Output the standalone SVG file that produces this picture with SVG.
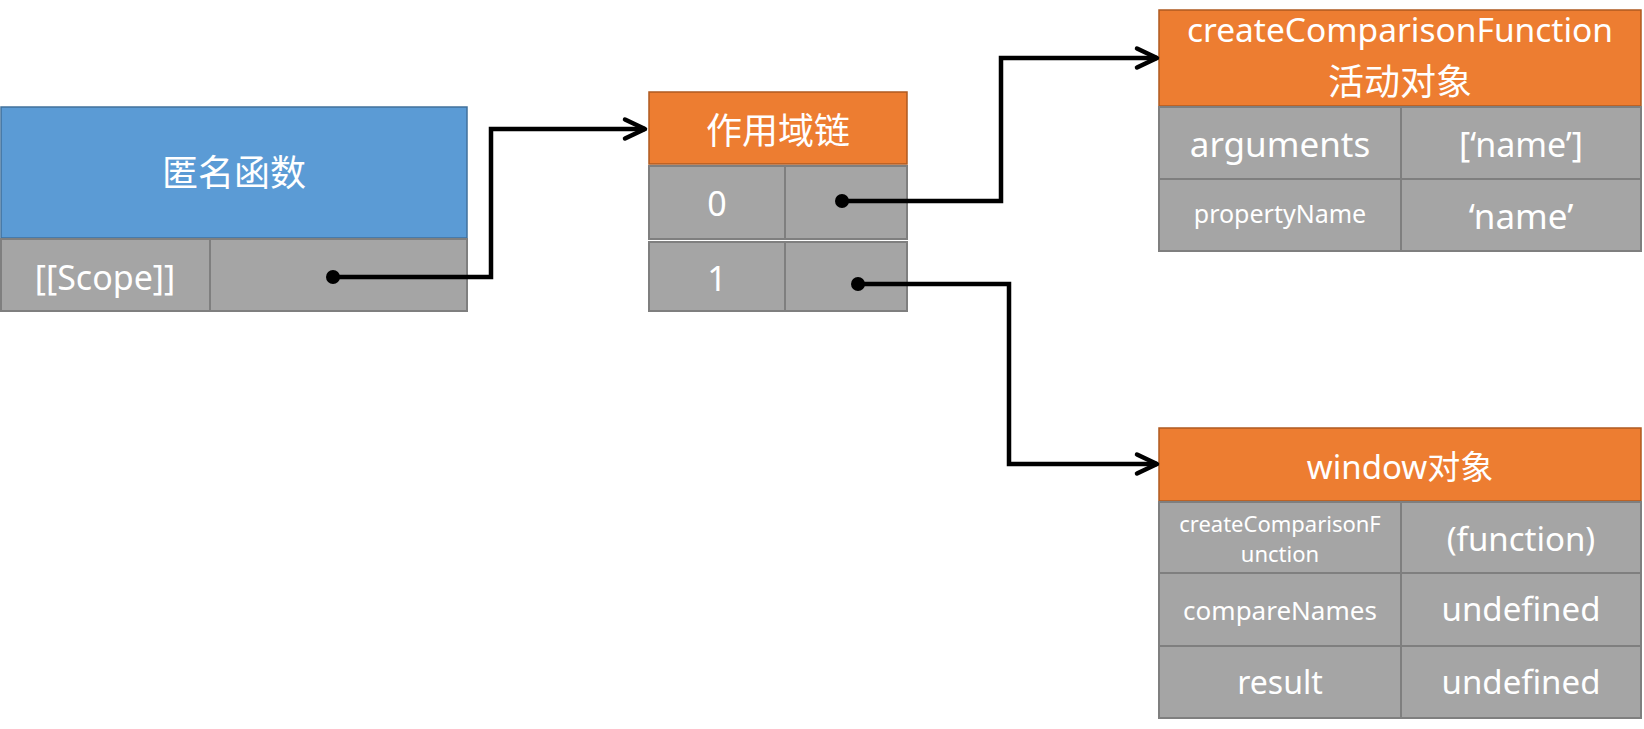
<svg xmlns="http://www.w3.org/2000/svg" width="1644" height="729" viewBox="0 0 1644 729">
  <style>
    .blue { fill: #5B9BD5; stroke: #41719C; stroke-width: 1.5; }
    .orange { fill: #ED7D31; stroke: #AE5A21; stroke-width: 1.5; }
    .cell { fill: #A5A5A5; stroke: #7F7F7F; stroke-width: 2; }
    text { fill: #FFFFFF; font-family: "Noto Sans", "Noto Sans CJK SC", sans-serif; text-anchor: middle; }
    .conn { fill: none; stroke: #000000; stroke-width: 4.5; stroke-linejoin: miter; }
  </style>
  <defs>
    <marker id="arrow" markerUnits="userSpaceOnUse" viewBox="-26 -14 30 28" refX="0" refY="0" markerWidth="30" markerHeight="28" orient="auto">
      <path d="M-20,-9.5 L0,0 L-20,9.5" fill="none" stroke="#000000" stroke-width="4.5" stroke-linecap="round" stroke-linejoin="round"/>
    </marker>
    <marker id="dot" markerUnits="userSpaceOnUse" viewBox="-9 -9 18 18" refX="0" refY="0" markerWidth="18" markerHeight="18">
      <circle cx="0" cy="0" r="7" fill="#000000"/>
    </marker>
  </defs>
  <rect width="1644" height="729" fill="#FFFFFF"/>

  <g id="anonymous-function">
    <rect class="blue" x="1" y="107" width="466" height="131"/>
    <text x="234" y="186" font-size="36">匿名函数</text>
    <rect class="cell" x="1" y="239" width="209" height="72"/>
    <rect class="cell" x="210" y="239" width="257" height="72"/>
    <text x="105" y="290" font-size="34">[[Scope]]</text>
  </g>

  <g id="scope-chain">
    <rect class="orange" x="649" y="92" width="258" height="72"/>
    <text x="778" y="144" font-size="36">作用域链</text>
    <rect class="cell" x="649" y="166" width="136" height="73"/>
    <rect class="cell" x="785" y="166" width="122" height="73"/>
    <text x="717" y="216" font-size="34">0</text>
    <rect class="cell" x="649" y="242" width="136" height="69"/>
    <rect class="cell" x="785" y="242" width="122" height="69"/>
    <text x="717" y="291" font-size="34">1</text>
  </g>

  <g id="activation-object">
    <rect class="orange" x="1159" y="10" width="482" height="96"/>
    <text x="1400" y="42" font-size="33.5">createComparisonFunction</text>
    <text x="1400" y="95" font-size="36">活动对象</text>
    <rect class="cell" x="1159" y="107" width="242" height="72"/>
    <rect class="cell" x="1401" y="107" width="240" height="72"/>
    <text x="1280" y="157" font-size="35">arguments</text>
    <text x="1521" y="157" font-size="34">[‘name’]</text>
    <rect class="cell" x="1159" y="179" width="242" height="72"/>
    <rect class="cell" x="1401" y="179" width="240" height="72"/>
    <text x="1280" y="223" font-size="25">propertyName</text>
    <text x="1521" y="229" font-size="35">‘name’</text>
  </g>

  <g id="window-object">
    <rect class="orange" x="1159" y="428" width="482" height="73"/>
    <text x="1400" y="479" font-size="33">window对象</text>
    <rect class="cell" x="1159" y="502" width="242" height="71"/>
    <rect class="cell" x="1401" y="502" width="240" height="71"/>
    <text x="1280" y="532" font-size="22">createComparisonF</text>
    <text x="1280" y="562" font-size="22">unction</text>
    <text x="1521" y="551" font-size="33">(function)</text>
    <rect class="cell" x="1159" y="573" width="242" height="73"/>
    <rect class="cell" x="1401" y="573" width="240" height="73"/>
    <text x="1280" y="620" font-size="26">compareNames</text>
    <text x="1521" y="621" font-size="33">undefined</text>
    <rect class="cell" x="1159" y="646" width="242" height="72"/>
    <rect class="cell" x="1401" y="646" width="240" height="72"/>
    <text x="1280" y="694" font-size="32">result</text>
    <text x="1521" y="694" font-size="33">undefined</text>
  </g>

  <g id="connectors">
    <path class="conn" d="M333,277 H491 V129 H645" marker-start="url(#dot)" marker-end="url(#arrow)"/>
    <path class="conn" d="M842,201 H1001 V58 H1157" marker-start="url(#dot)" marker-end="url(#arrow)"/>
    <path class="conn" d="M858,284 H1009 V464 H1157" marker-start="url(#dot)" marker-end="url(#arrow)"/>
  </g>
</svg>
